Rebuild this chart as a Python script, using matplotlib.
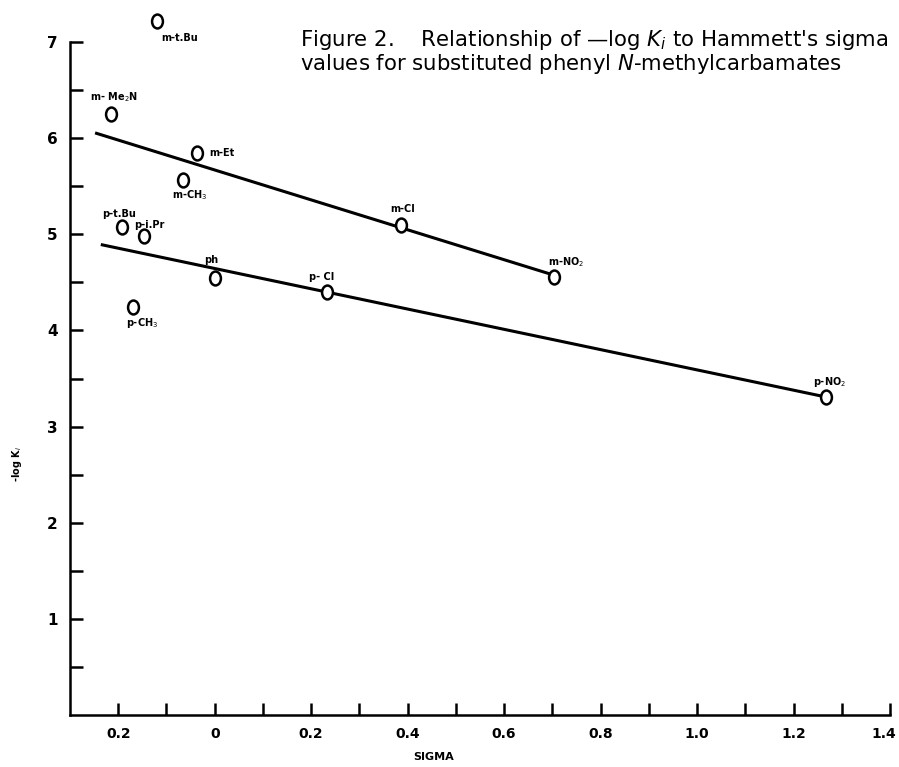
import matplotlib.pyplot as plt
import matplotlib.transforms as mtransforms
from matplotlib.markers import MarkerStyle
import numpy as np

# data
sigma = [-0.12, -0.215, -0.037, -0.065, -0.193, -0.147, 0.0, -0.169, 0.386, 0.703, 0.232, 1.268]
logki = [7.22, 6.25, 5.85, 5.56, 5.08, 4.98, 4.55, 4.24, 5.10, 4.56, 4.40, 3.31]
names = ['m-t.Bu', 'm- Me$_2$N', 'm-Et', 'm-CH$_3$', 'p-t.Bu', 'p-i.Pr', 'ph',
         'p-CH$_3$', 'm-Cl', 'm-NO$_2$', 'p- Cl', 'p-NO$_2$']

# fitted lines (end points)
meta_x = [-0.245, 0.70]
meta_y = [6.05, 4.58]
para_x = [-0.233, 1.265]
para_y = [4.89, 3.31]

xtick_vals = [-0.2, 0, 0.2, 0.4, 0.6, 0.8, 1.0, 1.2, 1.4]
xtick_text = ['0.2', '0', '0.2', '0.4', '0.6', '0.8', '1.0', '1.2', '1.4']
ytick_vals = [1, 2, 3, 4, 5, 6, 7]

# label offsets in pixels
offs = [(23, -17), (3, 17), (12, 0), (6, -15), (-3, 13), (6, 11), (-4, 18),
        (9, -16), (2, 16), (12, 14), (-5, 15), (3, 15)]

fig = plt.figure(figsize=(8.99, 7.67), dpi=100)
ax = fig.add_axes([70/899, 52/767, 820/899, 673/767])

ax.plot(meta_x, meta_y, color='black', lw=2.2, zorder=2)
ax.plot(para_x, para_y, color='black', lw=2.2, zorder=2)
oval = MarkerStyle('o', transform=mtransforms.Affine2D().scale(0.78, 1.0))
ax.plot(sigma, logki, ls='none', marker=oval, ms=10, mfc='white', mec='black', mew=1.8,
        zorder=3, clip_on=False)

for i in range(len(names)):
    dx, dy = offs[i]
    ha = 'left' if names[i] == 'm-Et' else 'center'
    ax.annotate(names[i], (sigma[i], logki[i]), xytext=(dx, dy), textcoords='offset pixels',
                ha=ha, va='center', fontsize=7, fontweight='bold', annotation_clip=False)

ax.set_xlim(-0.3, 1.4)
ax.set_ylim(0, 7)
ax.spines['top'].set_visible(False)
ax.spines['right'].set_visible(False)
ax.spines['left'].set_linewidth(1.8)
ax.spines['bottom'].set_linewidth(1.8)

ax.set_xticks(xtick_vals)
ax.set_xticklabels(xtick_text, fontsize=10, fontweight='bold')
ax.set_xticks(np.arange(-0.2, 1.45, 0.1), minor=True)
ax.set_yticks(ytick_vals)
ax.set_yticklabels([str(v) for v in ytick_vals], fontsize=11, fontweight='bold')
ax.set_yticks(np.arange(0.5, 7, 1.0), minor=True)
ax.tick_params(which='both', direction='in', length=9, width=1.8, pad=9)

# last x label sits against the figure edge
lab = ax.get_xticklabels()[-1]
lab.set_transform(lab.get_transform() + mtransforms.ScaledTranslation(-6/100, 0, fig.dpi_scale_trans))

fig.text(434/899, 1 - 757/767, 'SIGMA', ha='center', va='center', fontsize=8, fontweight='bold')
fig.text(17/899, 1 - 464/767, '-log K$_i$', rotation=90, ha='center', va='center', fontsize=7, fontweight='bold')

title = ("Figure 2.    Relationship of \u2014log $K_i$ to Hammett's sigma\n"
         "values for substituted phenyl $N$-methylcarbamates")
fig.text(300/899, 1 - 28/767, title, ha='left', va='top', fontsize=15.3,
         family='DejaVu Sans', linespacing=1.0)

fig.savefig('out.png', dpi=100)
